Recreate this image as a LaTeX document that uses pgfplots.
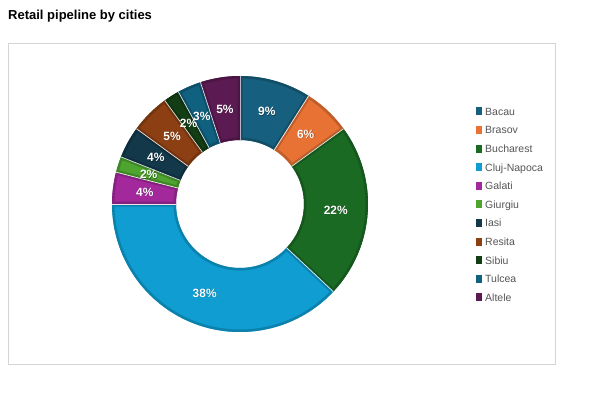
\documentclass[border=0pt]{standalone}
\usepackage{fontspec}
\setmainfont{Liberation Sans}
\usepackage{pgfplots}
\pgfplotsset{compat=1.18}
\usepackage{pgfplotstable}

\definecolor{cBacau}{HTML}{175F7E}
\definecolor{cBrasov}{HTML}{E87234}
\definecolor{cBucharest}{HTML}{1B6A24}
\definecolor{cCluj}{HTML}{0F9DD2}
\definecolor{cGalati}{HTML}{A2289B}
\definecolor{cGiurgiu}{HTML}{4DA42E}
\definecolor{cIasi}{HTML}{12384A}
\definecolor{cResita}{HTML}{8C3F13}
\definecolor{cSibiu}{HTML}{133D15}
\definecolor{cTulcea}{HTML}{10607F}
\definecolor{cAltele}{HTML}{5C1A52}
\definecolor{framegray}{HTML}{D4D4D4}
\definecolor{leggray}{HTML}{555555}

\pgfplotstableread{
name value col
Bacau 9 cBacau
Brasov 6 cBrasov
Bucharest 22 cBucharest
Cluj-Napoca 38 cCluj
Galati 4 cGalati
Giurgiu 2 cGiurgiu
Iasi 4 cIasi
Resita 5 cResita
Sibiu 2 cSibiu
Tulcea 3 cTulcea
Altele 5 cAltele
}\citydata

\tikzset{pct/.style={text=white, font=\bfseries\fontsize{12}{12}\selectfont, inner sep=0pt}}

\begin{document}
\begin{tikzpicture}
\begin{axis}[
  width=610pt, height=397pt, scale only axis,
  xmin=0, xmax=610, ymin=0, ymax=397,
  hide axis, clip=false,
  legend image code/.code={\path (0pt,-3pt) rectangle (6pt,3pt); \fill[#1, overlay] (0pt,-1pt) rectangle (6pt,5pt);},
  legend style={draw=none, fill=none, at={(axis cs:476,290.5)}, anchor=north west,
    font=\fontsize{10.5}{10.5}\selectfont, text=leggray,
    row sep=7.4pt, column sep=2.5pt, inner sep=0pt,
    nodes={inner sep=0.5pt, text height=8pt, text depth=2.2pt}},
  legend cell align=left,
]
\path (axis cs:0,0) rectangle (axis cs:610,397);
\draw[framegray, line width=1pt] (axis cs:8.5,32.5) rectangle (axis cs:555.5,353.5);
\node[anchor=base west, font=\bfseries\fontsize{13}{13}\selectfont, inner sep=0pt] at (axis cs:8,377) {Retail pipeline by cities};

\pgfplotstablegetrowsof{\citydata}
\pgfmathtruncatemacro\lastrow{\pgfplotsretval-1}
\pgfplotsforeachungrouped \i in {0,...,\lastrow}{%
  \pgfplotstablegetelem{\i}{col}\of\citydata \let\scol\pgfplotsretval
  \pgfplotstablegetelem{\i}{name}\of\citydata \let\sname\pgfplotsretval
  \edef\temp{\noexpand\addlegendimage{fill=\scol, draw=none}\noexpand\addlegendentry{\sname}}%
  \temp
}

\pgfplotsextra{%
  \begin{scope}[shift={(axis cs:240,193)}]
  \gdef\cum{0}%
  \foreach \i in {0,...,\lastrow}{%
    \pgfplotstablegetelem{\i}{value}\of\citydata \let\sval\pgfplotsretval
    \pgfplotstablegetelem{\i}{col}\of\citydata \let\scol\pgfplotsretval
    \pgfmathsetmacro\sa{90-3.6*\cum}%
    \pgfmathsetmacro\sb{90-3.6*(\cum+\sval)}%
    \begin{scope}
      \clip (\sa:128pt) arc[start angle=\sa, end angle=\sb, radius=128pt] -- (\sb:64pt) arc[start angle=\sb, end angle=\sa, radius=64pt] -- cycle;
      \fill[\scol] (-130pt,-130pt) rectangle (130pt,130pt);
      \draw[\scol!82!black, line width=5pt] (\sa:128pt) arc[start angle=\sa, end angle=\sb, radius=128pt] -- (\sb:64pt) arc[start angle=\sb, end angle=\sa, radius=64pt] -- cycle;
    \end{scope}
    \draw[white!85!\scol, line width=0.7pt] (\sa:64pt) -- (\sa:128pt);
    \pgfmathsetmacro\newcum{\cum+\sval}%
    \xdef\cum{\newcum}%
  }
  \gdef\cum{0}%
  \foreach \i in {0,...,\lastrow}{%
    \pgfplotstablegetelem{\i}{value}\of\citydata \let\sval\pgfplotsretval
    \pgfmathsetmacro\sm{90-3.6*(\cum+\sval/2)}%
    \node[pct, text=black, opacity=0.35] at ([shift={(0.6pt,-0.6pt)}]\sm:96pt) {\sval\%};
    \node[pct] at (\sm:96pt) {\sval\%};
    \pgfmathsetmacro\newcum{\cum+\sval}%
    \xdef\cum{\newcum}%
  }
  \end{scope}
}
\end{axis}
\end{tikzpicture}
\end{document}
